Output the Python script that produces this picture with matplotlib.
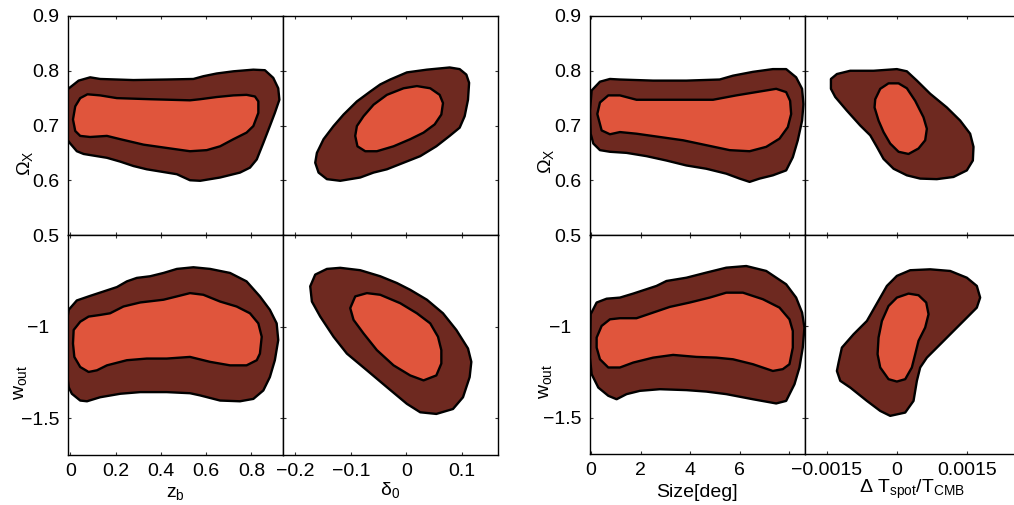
import numpy as np
import matplotlib
matplotlib.use("Agg")
import matplotlib.pyplot as plt

plt.rcParams['font.family'] = ['Liberation Sans', 'DejaVu Sans']
plt.rcParams['mathtext.fontset'] = 'custom'
plt.rcParams['mathtext.rm'] = 'Liberation Sans'
plt.rcParams['mathtext.it'] = 'Liberation Sans'
plt.rcParams['mathtext.default'] = 'regular'

# =============================================================================
# Contour outlines (x, y) in data units
# =============================================================================
# z_b vs Omega_X
zb_om_outer = [(-0.03, 0.72), (-0.015, 0.765), (0.037, 0.782), (0.088, 0.788), (0.132, 0.785),
               (0.279, 0.783), (0.426, 0.784), (0.544, 0.785), (0.588, 0.790), (0.647, 0.795),
               (0.721, 0.799), (0.809, 0.802), (0.860, 0.801), (0.897, 0.787), (0.919, 0.768),
               (0.924, 0.747), (0.904, 0.723), (0.882, 0.699), (0.853, 0.668), (0.824, 0.638),
               (0.794, 0.623), (0.750, 0.614), (0.662, 0.605), (0.574, 0.599), (0.529, 0.600),
               (0.471, 0.611), (0.412, 0.615), (0.338, 0.620), (0.279, 0.626), (0.221, 0.634),
               (0.162, 0.641), (0.103, 0.645), (0.059, 0.648), (0.029, 0.653), (0.0, 0.667),
               (-0.015, 0.675)]
zb_om_inner = [(0.012, 0.711), (0.022, 0.735), (0.044, 0.750), (0.076, 0.757), (0.132, 0.755),
               (0.206, 0.750), (0.353, 0.748), (0.529, 0.746), (0.574, 0.748), (0.647, 0.752),
               (0.721, 0.755), (0.779, 0.756), (0.816, 0.753), (0.831, 0.744), (0.831, 0.723),
               (0.809, 0.699), (0.779, 0.687), (0.721, 0.675), (0.662, 0.662), (0.603, 0.655),
               (0.529, 0.653), (0.426, 0.659), (0.324, 0.665), (0.221, 0.675), (0.162, 0.681),
               (0.088, 0.679), (0.044, 0.681), (0.022, 0.690)]

# delta_0 vs Omega_X
d0_om_outer = [(-0.164, 0.632), (-0.161, 0.650), (-0.149, 0.675), (-0.131, 0.699), (-0.113, 0.720),
               (-0.089, 0.744), (-0.065, 0.762), (-0.047, 0.775), (-0.029, 0.784), (0.001, 0.797),
               (0.037, 0.802), (0.078, 0.806), (0.096, 0.803), (0.108, 0.793), (0.113, 0.778),
               (0.111, 0.747), (0.105, 0.717), (0.096, 0.696), (0.078, 0.681), (0.054, 0.662),
               (0.025, 0.644), (-0.005, 0.632), (-0.035, 0.620), (-0.059, 0.614), (-0.083, 0.605),
               (-0.119, 0.599), (-0.143, 0.602), (-0.158, 0.614)]
d0_om_inner = [(-0.092, 0.681), (-0.089, 0.699), (-0.077, 0.717), (-0.059, 0.738), (-0.035, 0.756),
               (-0.005, 0.768), (0.019, 0.772), (0.043, 0.768), (0.060, 0.756), (0.066, 0.741),
               (0.063, 0.720), (0.051, 0.702), (0.031, 0.687), (0.007, 0.675), (-0.023, 0.662),
               (-0.053, 0.653), (-0.074, 0.653), (-0.088, 0.662)]

# z_b vs w_out
zb_w_outer = [(-0.03, -1.10), (-0.007, -0.908), (0.029, -0.857), (0.088, -0.832), (0.147, -0.808),
              (0.206, -0.784), (0.250, -0.753), (0.294, -0.734), (0.353, -0.725), (0.412, -0.707),
              (0.471, -0.685), (0.544, -0.676), (0.618, -0.685), (0.706, -0.707), (0.779, -0.753),
              (0.838, -0.835), (0.882, -0.908), (0.912, -0.982), (0.919, -1.073), (0.904, -1.183),
              (0.882, -1.275), (0.853, -1.348), (0.809, -1.394), (0.750, -1.407), (0.662, -1.403),
              (0.574, -1.375), (0.529, -1.363), (0.426, -1.357), (0.309, -1.357), (0.221, -1.366),
              (0.132, -1.385), (0.074, -1.407), (0.044, -1.403), (0.007, -1.366), (-0.007, -1.330)]
zb_w_inner = [(0.015, -1.018), (0.044, -0.973), (0.081, -0.945), (0.132, -0.936), (0.176, -0.927),
              (0.235, -0.890), (0.309, -0.868), (0.412, -0.853), (0.471, -0.835), (0.529, -0.817),
              (0.588, -0.826), (0.662, -0.863), (0.735, -0.890), (0.794, -0.927), (0.831, -0.982),
              (0.846, -1.055), (0.838, -1.147), (0.824, -1.183), (0.779, -1.211), (0.706, -1.211),
              (0.618, -1.192), (0.529, -1.165), (0.426, -1.174), (0.338, -1.174), (0.250, -1.183),
              (0.162, -1.211), (0.118, -1.238), (0.081, -1.247), (0.044, -1.220), (0.018, -1.165),
              (0.012, -1.092)]

# delta_0 vs w_out
d0_w_outer = [(-0.173, -0.780), (-0.164, -0.716), (-0.143, -0.685), (-0.119, -0.679), (-0.083, -0.692),
              (-0.047, -0.725), (-0.017, -0.762), (0.007, -0.799), (0.037, -0.853), (0.066, -0.927),
              (0.090, -1.018), (0.111, -1.119), (0.117, -1.192), (0.114, -1.275), (0.102, -1.385),
              (0.084, -1.449), (0.054, -1.476), (0.025, -1.467), (0.001, -1.421), (-0.035, -1.330),
              (-0.071, -1.238), (-0.107, -1.147), (-0.131, -1.055), (-0.155, -0.945), (-0.170, -0.863)]
d0_w_inner = [(-0.101, -0.899), (-0.092, -0.835), (-0.071, -0.817), (-0.047, -0.826), (-0.011, -0.872),
              (0.019, -0.927), (0.043, -0.982), (0.057, -1.055), (0.063, -1.128), (0.063, -1.201),
              (0.054, -1.266), (0.031, -1.293), (0.007, -1.266), (-0.023, -1.211), (-0.053, -1.128),
              (-0.077, -1.037), (-0.095, -0.963)]

# Size[deg] vs Omega_X
sz_om_outer = [(0.027, 0.764), (0.362, 0.780), (0.765, 0.785), (1.168, 0.784), (2.510, 0.782),
               (3.852, 0.782), (5.195, 0.784), (5.732, 0.791), (6.537, 0.798), (7.342, 0.803),
               (7.879, 0.803), (8.282, 0.788), (8.523, 0.767), (8.577, 0.739), (8.523, 0.709),
               (8.349, 0.673), (8.148, 0.642), (7.879, 0.618), (7.342, 0.609), (6.805, 0.603),
               (6.403, 0.597), (6.000, 0.603), (5.463, 0.612), (4.658, 0.621), (3.852, 0.627),
               (3.047, 0.636), (2.242, 0.644), (1.436, 0.650), (0.765, 0.652), (0.362, 0.655),
               (0.094, 0.667), (-0.013, 0.685), (-0.040, 0.727)]
sz_om_inner = [(0.255, 0.721), (0.362, 0.742), (0.698, 0.755), (1.168, 0.755), (1.839, 0.747),
               (3.181, 0.747), (4.926, 0.747), (5.866, 0.755), (6.805, 0.762), (7.477, 0.767),
               (7.879, 0.761), (8.040, 0.745), (8.081, 0.721), (7.946, 0.697), (7.611, 0.676),
               (7.074, 0.661), (6.403, 0.653), (5.597, 0.655), (4.658, 0.664), (3.718, 0.673),
               (2.779, 0.679), (1.839, 0.685), (1.168, 0.688), (0.765, 0.684), (0.430, 0.691)]

# dT/T vs Omega_X
dt_om_outer = [(-0.001414, 0.785), (-0.001286, 0.794), (-0.001000, 0.800), (-0.000500, 0.800),
               (0.0, 0.803), (0.000214, 0.799), (0.000429, 0.782), (0.000714, 0.758),
               (0.001071, 0.733), (0.001357, 0.709), (0.001571, 0.685), (0.001643, 0.661),
               (0.001629, 0.636), (0.001500, 0.618), (0.001214, 0.606), (0.000857, 0.602),
               (0.000500, 0.603), (0.000214, 0.609), (-0.000071, 0.621), (-0.000286, 0.639),
               (-0.000429, 0.661), (-0.000571, 0.682), (-0.000786, 0.700), (-0.001071, 0.727),
               (-0.001321, 0.752), (-0.001414, 0.767)]
dt_om_inner = [(-0.000464, 0.748), (-0.000357, 0.767), (-0.000179, 0.777), (0.000036, 0.777),
               (0.000214, 0.768), (0.000393, 0.745), (0.000571, 0.715), (0.000643, 0.694),
               (0.000607, 0.673), (0.000464, 0.658), (0.000250, 0.648), (0.000036, 0.652),
               (-0.000143, 0.667), (-0.000286, 0.688), (-0.000393, 0.709), (-0.000479, 0.733)]

# Size[deg] vs w_out
sz_w_outer = [(-0.013, -0.934), (0.228, -0.870), (0.631, -0.849), (1.168, -0.843), (1.705, -0.821),
              (2.242, -0.797), (2.644, -0.779), (3.047, -0.752), (3.852, -0.734), (4.658, -0.706),
              (5.463, -0.679), (6.268, -0.670), (7.074, -0.697), (7.879, -0.770), (8.282, -0.843),
              (8.523, -0.925), (8.617, -1.007), (8.550, -1.117), (8.416, -1.226), (8.215, -1.318),
              (7.879, -1.409), (7.477, -1.423), (6.537, -1.400), (5.463, -1.372), (4.658, -1.358),
              (3.852, -1.350), (2.779, -1.345), (1.973, -1.354), (1.436, -1.372), (1.034, -1.400),
              (0.698, -1.381), (0.295, -1.336), (0.027, -1.263), (-0.040, -1.172)]
sz_w_inner = [(0.228, -1.062), (0.430, -0.998), (0.765, -0.962), (1.168, -0.956), (1.839, -0.956),
              (2.510, -0.925), (3.181, -0.894), (3.987, -0.870), (4.792, -0.843), (5.463, -0.816),
              (6.134, -0.816), (6.940, -0.852), (7.611, -0.898), (8.013, -0.962), (8.148, -1.026),
              (8.148, -1.117), (8.013, -1.208), (7.745, -1.235), (7.342, -1.245), (6.537, -1.208),
              (5.732, -1.181), (5.060, -1.172), (4.255, -1.168), (3.315, -1.157), (2.510, -1.172),
              (1.705, -1.199), (1.168, -1.226), (0.698, -1.226), (0.362, -1.181), (0.228, -1.117)]

# dT/T vs w_out
dt_w_outer = [(-0.001250, -1.199), (-0.001179, -1.117), (-0.000929, -1.044), (-0.000643, -0.971),
              (-0.000357, -0.843), (-0.000214, -0.779), (0.0, -0.724), (0.000286, -0.693),
              (0.000714, -0.688), (0.001143, -0.697), (0.001500, -0.734), (0.001714, -0.779),
              (0.001786, -0.843), (0.001714, -0.898), (0.001500, -0.953), (0.001214, -1.026),
              (0.000929, -1.099), (0.000643, -1.172), (0.000500, -1.226), (0.000429, -1.299),
              (0.000357, -1.409), (0.000179, -1.473), (-0.000143, -1.491), (-0.000357, -1.464),
              (-0.000643, -1.409), (-0.001000, -1.336), (-0.001214, -1.299), (-0.001286, -1.245)]
dt_w_inner = [(-0.000393, -1.062), (-0.000321, -0.971), (-0.000179, -0.889), (0.0, -0.843),
              (0.000250, -0.821), (0.000464, -0.830), (0.000629, -0.870), (0.000679, -0.934),
              (0.000607, -1.007), (0.000464, -1.080), (0.000393, -1.153), (0.000321, -1.226),
              (0.000179, -1.290), (0.0, -1.303), (-0.000179, -1.290), (-0.000357, -1.226),
              (-0.000414, -1.153)]

# axis ranges and ticks
zb_lim = (-0.01, 0.94)
zb_ticks = [0, 0.2, 0.4, 0.6, 0.8]
zb_labels = ['0', '0.2', '0.4', '0.6', '0.8']
d0_lim = (-0.222, 0.165)
d0_ticks = [-0.2, -0.1, 0, 0.1]
d0_labels = ['\u22120.2', '\u22120.1', '0', '0.1']
sz_lim = (-0.04, 8.64)
sz_ticks = [0, 2, 4, 6, 8]
sz_labels = ['0', '2', '4', '6', '']
dt_lim = (-0.00197, 0.00264)
dt_ticks = [-0.0015, 0, 0.0015]
dt_labels = ['\u22120.0015', '0', '0.0015']
om_lim = (0.5, 0.9)
om_ticks = [0.5, 0.6, 0.7, 0.8, 0.9]
om_labels = ['0.5', '0.6', '0.7', '0.8', '0.9']
w_lim = (-1.7, -0.5)
w_ticks = [-1.5, -1.0]
w_labels = ['\u22121.5', '\u22121  ']

OUTER = '#6E2920'
INNER = '#E0553C'
FS = 14

fig = plt.figure(figsize=(10.14, 5.05), dpi=100)
W, H = 1014.0, 505.0


def make_ax(x0, x1, ytop, ybot):
    ax = fig.add_axes([x0 / W, 1 - ybot / H, (x1 - x0) / W, (ybot - ytop) / H])
    ax.tick_params(direction='in', length=2.5, width=0.8, color='#333333',
                   top=True, right=True, labelsize=FS, pad=6)
    for s in ax.spines.values():
        s.set_linewidth(1.0)
    return ax


def draw(ax, outer, inner):
    ox, oy = zip(*outer)
    ix, iy = zip(*inner)
    ax.fill(ox, oy, facecolor=OUTER, edgecolor='black', linewidth=1.7,
            joinstyle='round', zorder=2)
    ax.fill(ix, iy, facecolor=INNER, edgecolor='black', linewidth=1.7,
            joinstyle='round', zorder=3)


panels = [
    # x0, x1, ytop, ybot, outer, inner, xlim, xticks, xlabels, ylim, yticks, ylabels
    (68, 283, 16, 235, zb_om_outer, zb_om_inner, zb_lim, zb_ticks, None, om_lim, om_ticks, om_labels),
    (283, 498, 16, 235, d0_om_outer, d0_om_inner, d0_lim, d0_ticks, None, om_lim, om_ticks, None),
    (68, 283, 235, 455, zb_w_outer, zb_w_inner, zb_lim, zb_ticks, zb_labels, w_lim, w_ticks, w_labels),
    (283, 498, 235, 455, d0_w_outer, d0_w_inner, d0_lim, d0_ticks, d0_labels, w_lim, w_ticks, None),
    (590, 805, 16, 235, sz_om_outer, sz_om_inner, sz_lim, sz_ticks, None, om_lim, om_ticks, om_labels),
    (805, 1020, 16, 235, dt_om_outer, dt_om_inner, dt_lim, dt_ticks, None, om_lim, om_ticks, None),
    (590, 805, 235, 454, sz_w_outer, sz_w_inner, sz_lim, sz_ticks, sz_labels, w_lim, w_ticks, w_labels),
    (805, 1020, 235, 454, dt_w_outer, dt_w_inner, dt_lim, dt_ticks, dt_labels, w_lim, w_ticks, None),
]

axes = []
for (x0, x1, yt, yb, outer, inner, xl, xt, xtl, yl, yt_, ytl) in panels:
    ax = make_ax(x0, x1, yt, yb)
    draw(ax, outer, inner)
    ax.set_xlim(*xl)
    ax.set_ylim(*yl)
    ax.set_xticks(xt)
    ax.set_yticks(yt_)
    if xtl is None:
        ax.set_xticklabels([])
    else:
        ax.set_xticklabels(xtl)
    if ytl is None:
        ax.set_yticklabels([])
    else:
        ax.set_yticklabels(ytl)
    axes.append(ax)

# axis labels
lab = dict(fontsize=FS, ha='center', va='center')
axes[0].text(-0.202, 0.33, r'$\Omega_X$', rotation=90, transform=axes[0].transAxes, **lab)
axes[2].text(-0.219, 0.332, r'$w_{out}$', rotation=90, transform=axes[2].transAxes, **lab)
axes[4].text(-0.205, 0.338, r'$\Omega_X$', rotation=90, transform=axes[4].transAxes, **lab)
axes[6].text(-0.209, 0.333, r'$w_{out}$', rotation=90, transform=axes[6].transAxes, **lab)
axes[2].text(0.498, -0.173, r'$z_b$', transform=axes[2].transAxes, **lab)
axes[3].text(0.498, -0.159, r'$\delta_0$', transform=axes[3].transAxes, **lab)
axes[6].text(0.498, -0.174, 'Size[deg]', transform=axes[6].transAxes, **lab)
axes[7].text(0.498, -0.16, r'$\Delta\ T_{spot}/T_{CMB}$', transform=axes[7].transAxes, **lab)

plt.savefig('out.png', dpi=100)
